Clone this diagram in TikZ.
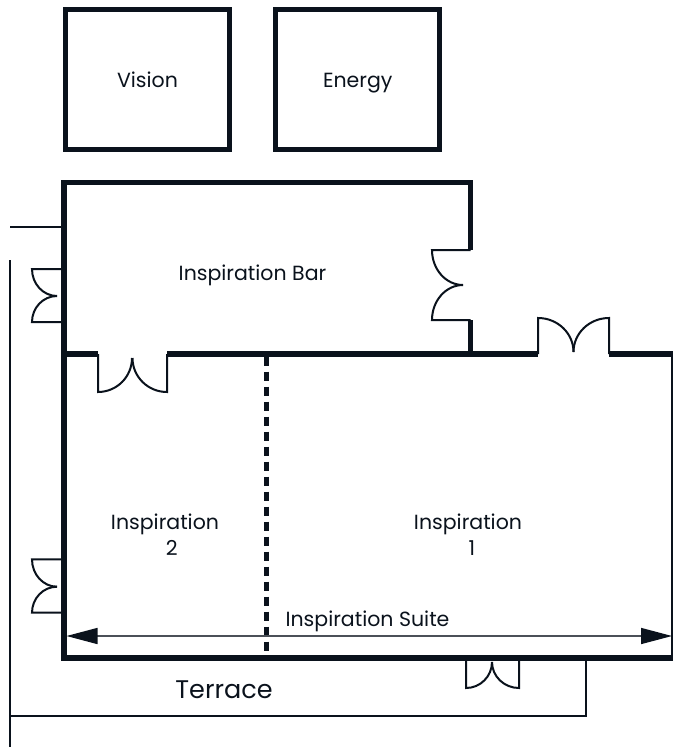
\documentclass[tikz,border=0pt]{standalone}
\usepackage{fontspec}
\setmainfont{Poppins}
\usetikzlibrary{arrows.meta}
\definecolor{ink}{RGB}{10,18,28}
\definecolor{dimline}{RGB}{75,80,88}
\tikzset{
  wall/.style={draw=ink, line width=5.5pt, line join=miter},
  thinwall/.style={draw=ink, line width=1.6pt},
  door/.style={draw=ink, line width=2pt},
  terraceline/.style={draw=ink, line width=2pt},
  partition/.style={draw=ink, line width=5pt, dash pattern=on 9pt off 6pt},
  roombox/.style={draw=ink, line width=5pt, minimum width=164pt, minimum height=140pt, inner sep=0pt, text height=15pt, text depth=0pt, font=\fontsize{20.5}{24}\selectfont, text=ink},
  lbl/.style={font=\fontsize{20.5}{24}\selectfont, text=ink, inner sep=0pt, anchor=base},
  dim/.style={draw=dimline, line width=1.5pt, {Triangle[length=31pt,width=16pt,color=ink]}-{Triangle[length=31pt,width=16pt,color=ink]}}
}
\begin{document}
\begin{tikzpicture}[x=1pt,y=-1pt]
\useasboundingbox (0,0) rectangle (673,747);
% small rooms
\node[roombox] (vision) at (147.5,79.5) {Vision};
\node[roombox] (energy) at (357.75,79.5) {Energy};
% walls
\draw[wall] (673,658) -- (64,658) -- (64,182.5) -- (470.5,182.5) -- (470.5,250);
\draw[wall] (470.5,320) -- (470.5,356.5);
\draw[wall] (64,354) -- (98,354);
\draw[wall] (167,354) -- (538,354);
\draw[wall] (609,354) -- (673,354);
\draw[thinwall] (672,354) -- (672,658);
% partition
\draw[partition] (266.5,356.7) -- (266.5,656);
% doors
\draw[door] (470.5,250) -- (432,250) arc[start angle=180,end angle=90,x radius=31,y radius=35];
\draw[door] (470.5,320) -- (432,320) arc[start angle=180,end angle=270,x radius=31,y radius=35];
\draw[door] (538,354) -- (538,318) arc[start angle=270,end angle=360,x radius=35.5,y radius=34];
\draw[door] (609,354) -- (609,318) arc[start angle=270,end angle=180,x radius=35.5,y radius=34];
\draw[door] (98,354) -- (98,392) arc[start angle=90,end angle=0,x radius=34,y radius=34];
\draw[door] (167,354) -- (167,392) arc[start angle=90,end angle=180,x radius=34.5,y radius=34];
\draw[door] (64,269) -- (32,269) arc[start angle=180,end angle=90,x radius=25,y radius=27];
\draw[door] (64,322) -- (32,322) arc[start angle=180,end angle=270,x radius=25,y radius=26];
\draw[door] (64,559.3) -- (32,559.3) arc[start angle=180,end angle=90,x radius=25,y radius=27.4];
\draw[door] (64,612.7) -- (32,612.7) arc[start angle=180,end angle=270,x radius=25,y radius=26];
\draw[door] (466,658) -- (466,688) arc[start angle=90,end angle=0,x radius=26,y radius=26];
\draw[door] (519,658) -- (519,688) arc[start angle=90,end angle=180,x radius=27,y radius=26];
% terrace outline
\draw[terraceline] (10,227) -- (64,227);
\draw[terraceline] (10,260) -- (10,747);
\draw[terraceline] (10,716) -- (586,716) -- (586,658);
% dimension arrow
\coordinate (aL) at (66.5,636);
\coordinate (aR) at (672,636);
\draw[dim] (aL) -- (aR);
% labels
\node[lbl] (bar) at (252.5,280) {Inspiration Bar};
\node[lbl] (insp2) at (165,529) {Inspiration};
\node[lbl] (two) at (171.7,555) {2};
\node[lbl] (insp1) at (468,529) {Inspiration};
\node[lbl] (one) at (472,555) {1};
\node[lbl] (suite) at (367.5,626.5) {Inspiration Suite};
\node[lbl, font=\fontsize{25.5}{30}\selectfont] (terrace) at (224,698.3) {Terrace};
\end{tikzpicture}
\end{document}
